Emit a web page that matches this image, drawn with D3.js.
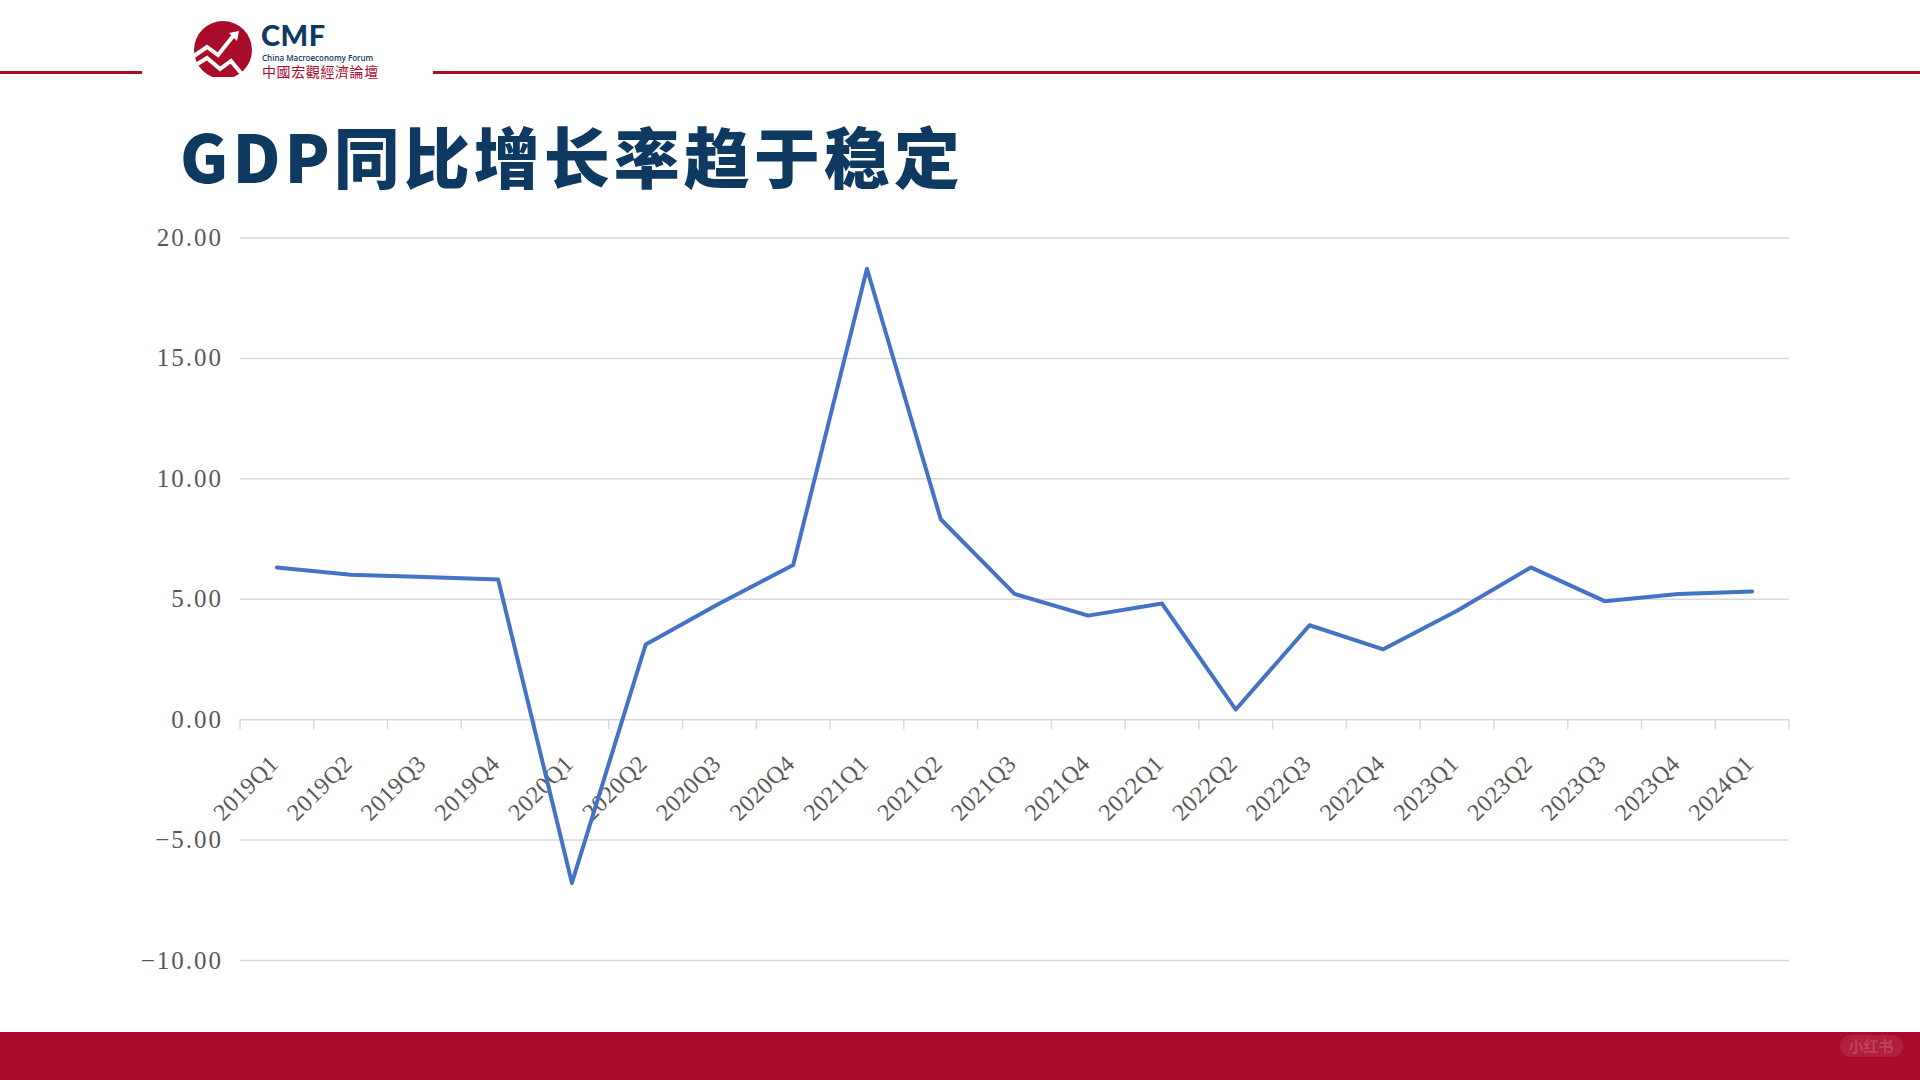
<!DOCTYPE html>
<html>
<head>
<meta charset="utf-8">
<script src="https://cdn.jsdelivr.net/npm/d3@7"></script>
<style>
  html, body { margin: 0; padding: 0; background: #fff; }
  svg { display: block; }
</style>
</head>
<body>
<svg id="chart" width="1920" height="1080"></svg>
<script>
const categories = ["2019Q1","2019Q2","2019Q3","2019Q4","2020Q1","2020Q2","2020Q3","2020Q4",
  "2021Q1","2021Q2","2021Q3","2021Q4","2022Q1","2022Q2","2022Q3","2022Q4",
  "2023Q1","2023Q2","2023Q3","2023Q4","2024Q1"];
const gdpGrowth = [6.3, 6.0, 5.9, 5.8, -6.8, 3.1, 4.8, 6.4, 18.7, 8.3, 5.2, 4.3,
  4.8, 0.4, 3.9, 2.9, 4.5, 6.3, 4.9, 5.2, 5.3];
const yTicks = [-10, -5, 0, 5, 10, 15, 20];
const titleText = "GDP同比增长率趋于稳定";

const RED = "#AA0C2B";
const NAVY = "#0E3A62";

const svg = d3.select("#chart");

// ---- header decoration ----
svg.append("line").attr("x1", 0).attr("x2", 142).attr("y1", 72.5).attr("y2", 72.5)
  .attr("stroke", RED).attr("stroke-width", 3);
svg.append("line").attr("x1", 433).attr("x2", 1920).attr("y1", 72.5).attr("y2", 72.5)
  .attr("stroke", RED).attr("stroke-width", 3);

// logo
const logo = svg.append("g");
svg.append("clipPath").attr("id", "logoclip").append("rect")
  .attr("x", 180).attr("y", 15).attr("width", 90).attr("height", 62);
logo.append("circle").attr("cx", 223).attr("cy", 50).attr("r", 29)
  .attr("fill", RED).attr("clip-path", "url(#logoclip)");
const zig = d3.line();
logo.append("path").attr("d", zig([[194,56],[207,47],[218,55],[234,35]]))
  .attr("fill", "none").attr("stroke", "#fff").attr("stroke-width", 4).attr("stroke-linejoin", "miter");
logo.append("path").attr("d", "M229,33 L239,31 L237,41 Z").attr("fill", "#fff");
logo.append("path").attr("d", zig([[194,66],[207,58],[220,69],[231,61],[245,78]]))
  .attr("fill", "none").attr("stroke", "#fff").attr("stroke-width", 4);
logo.append("text").attr("x", 261).attr("y", 46).text("CMF")
  .attr("font-family", "Lato, 'Open Sans', sans-serif").attr("font-weight", 900)
  .attr("font-size", 29).attr("fill", NAVY).attr("letter-spacing", 0.5);
logo.append("text").attr("x", 262).attr("y", 61).text("China Macroeconomy Forum")
  .attr("font-family", "'Open Sans', sans-serif").attr("font-weight", 600)
  .attr("font-size", 8).attr("fill", NAVY);
logo.append("text").attr("x", 262).attr("y", 77).text("中國宏觀經濟論壇")
  .attr("font-family", "'Noto Sans CJK TC'").attr("font-weight", 400)
  .attr("font-size", 14).attr("fill", RED).attr("letter-spacing", 0.6);

// title
svg.append("text").attr("x", 180).attr("y", 183).text(titleText)
  .attr("font-family", "'Noto Sans CJK SC'").attr("font-weight", 900)
  .attr("font-size", 66).attr("fill", NAVY).attr("letter-spacing", 4);

// ---- chart ----
const left = 240, right = 1789;
const x = d3.scaleBand().domain(categories).range([left, right]).padding(0);
const y = d3.scaleLinear().domain([-10, 20]).range([960, 237.5]);
const fmt = d3.format(".2f");

const grid = svg.append("g").attr("transform", `translate(${left},0)`)
  .call(d3.axisLeft(y).tickValues(yTicks).tickSize(-(right - left)).tickFormat(fmt).tickPadding(17));
grid.select(".domain").remove();
grid.selectAll(".tick line").attr("stroke", "#D9D9D9").attr("stroke-width", 1.5);
grid.selectAll(".tick text").attr("font-family", "'Liberation Serif', 'DejaVu Serif', serif")
  .attr("font-size", 25).attr("fill", "#595959").attr("letter-spacing", 2);

// x axis tick marks at category boundaries
const boundaries = categories.map(c => x(c)).concat([x.range()[1]]);
svg.append("g").selectAll("line").data(boundaries).join("line")
  .attr("x1", d => d).attr("x2", d => d)
  .attr("y1", y(0)).attr("y2", y(0) + 10)
  .attr("stroke", "#D9D9D9").attr("stroke-width", 1.5);

// x labels
svg.append("g").selectAll("text").data(categories).join("text")
  .attr("transform", d => `translate(${x(d) + x.bandwidth() / 2 + 3},${y(0) + 46}) rotate(-45)`)
  .attr("text-anchor", "end")
  .attr("font-family", "'Liberation Serif', 'DejaVu Serif', serif")
  .attr("font-size", 24).attr("fill", "#595959").attr("letter-spacing", 0.5)
  .text(d => d);

// line
const line = d3.line()
  .x((d, i) => x(categories[i]) + x.bandwidth() / 2)
  .y(d => y(d));
svg.append("path").datum(gdpGrowth).attr("d", line)
  .attr("fill", "none").attr("stroke", "#4472C4").attr("stroke-width", 4)
  .attr("stroke-linejoin", "round").attr("stroke-linecap", "round");

// ---- footer ----
svg.append("rect").attr("x", 0).attr("y", 1032).attr("width", 1920).attr("height", 48).attr("fill", RED);
svg.append("rect").attr("x", 1840).attr("y", 1035).attr("width", 63).attr("height", 22).attr("rx", 11)
  .attr("fill", "#ffffff").attr("fill-opacity", 0.08);
svg.append("text").attr("x", 1871).attr("y", 1052).attr("text-anchor", "middle").text("小红书")
  .attr("font-family", "'Noto Sans CJK SC'").attr("font-weight", 700).attr("font-size", 15)
  .attr("fill", "#ffffff").attr("fill-opacity", 0.18);
</script>
</body>
</html>
